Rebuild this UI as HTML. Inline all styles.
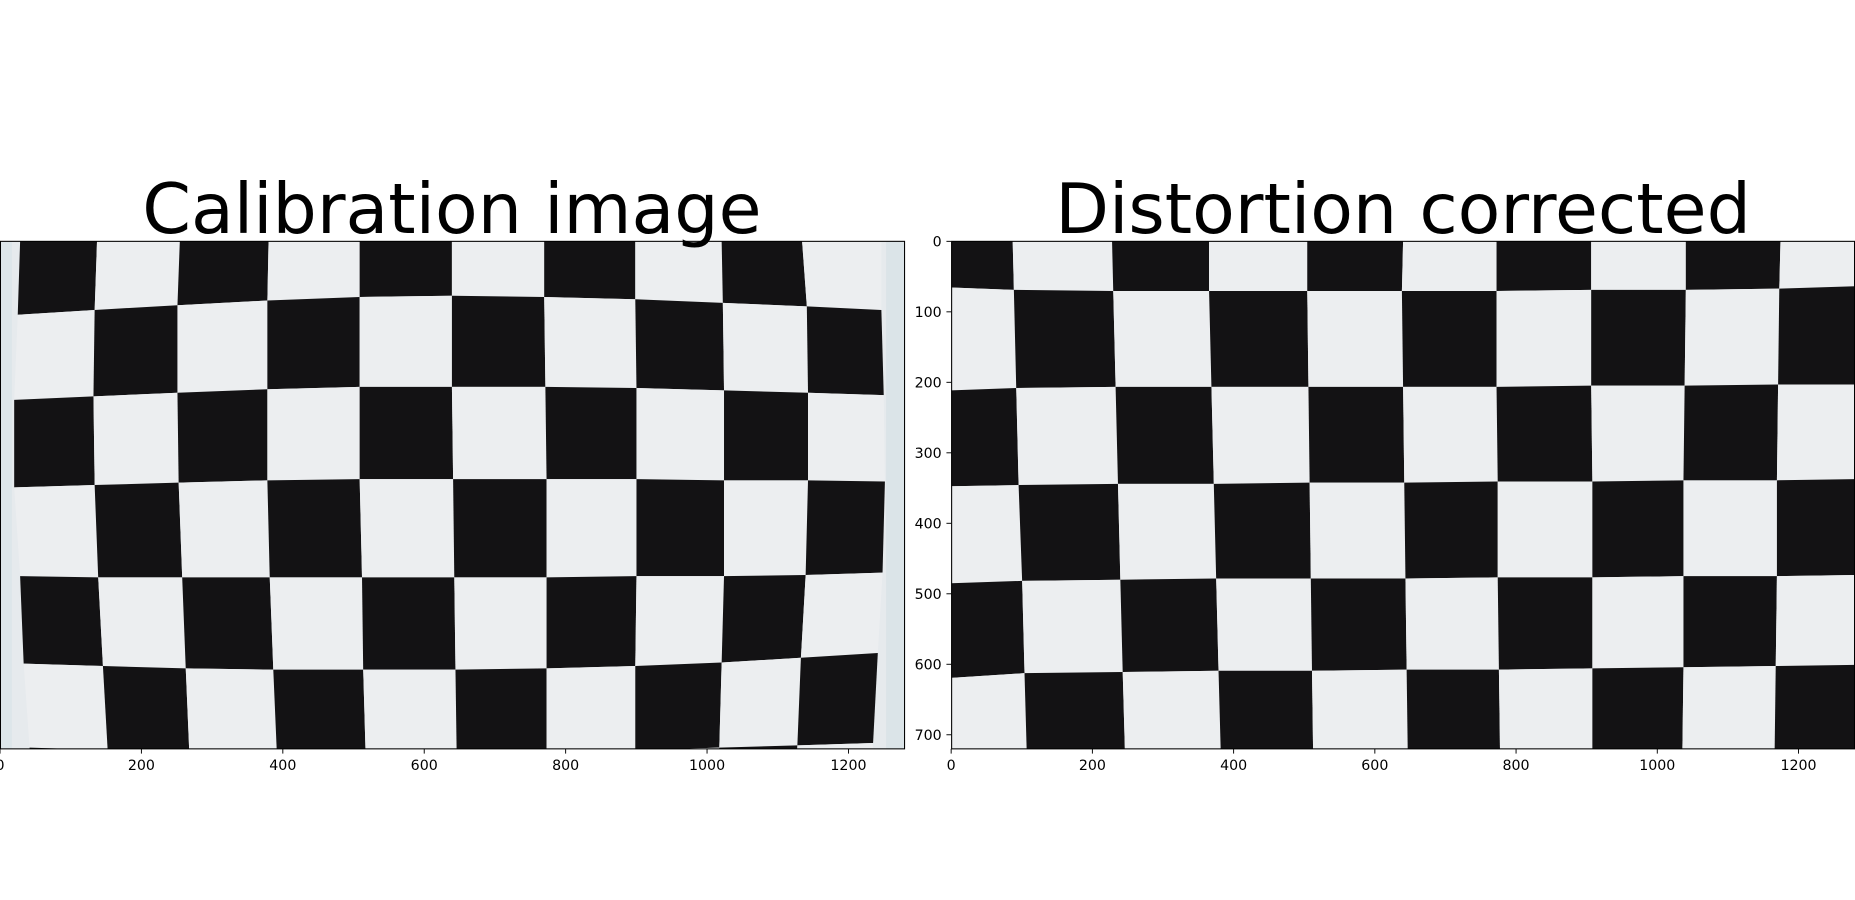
<!DOCTYPE html>
<html><head><meta charset="utf-8"><style>
html,body{margin:0;padding:0;background:#fff;width:1855px;height:900px;overflow:hidden}
svg{display:block}
text{font-family:"DejaVu Sans","Liberation Sans",sans-serif;fill:#000}
</style></head><body>
<svg id="fig" width="1855" height="900" viewBox="0 0 1568 760.75" xmlns="http://www.w3.org/2000/svg">
<defs>
<clipPath id="clipL"><rect x="0" y="204" width="765" height="429"/></clipPath>
<clipPath id="clipR"><rect x="804" y="204" width="764" height="429"/></clipPath>
</defs>
<g id="axL"></g>
<g id="axR"></g>
<text x="382" y="197" font-size="59" text-anchor="middle">Calibration image</text>
<text x="1186" y="197" font-size="59" text-anchor="middle">Distortion corrected</text>
</svg>
<script>
const xTicks=[0,200,400,600,800,1000,1200];
const yTicks=[0,100,200,300,400,500,600,700];
const leftX=[[17,82,152,227,304,382,460,537,610,678,745],[15,80,150,226,304,382,460,537,611,682,745],[12,79,150,226,304,382,461,538,612,683,747],[12,80,151,226,304,383,462,538,612,683,748],[17,83,154,228,306,384,462,538,612,681,746],[20,87,157,231,307,385,462,537,610,677,742],[25,91,160,234,309,386,462,537,608,674,738],[27,93,162,236,310,387,462,537,607,672,736]];
const leftY=[[204,204,204,204,204,204,204,204,204,204,204],[266,262,258,254,251,250,251,253,256,259,262],[338,335,332,329,327,327,327,328,330,332,334],[412,410,408,406,405,405,405,405,406,406,407],[487,488,488,488,488,488,488,487,487,486,484],[561,563,565,566,566,566,565,563,560,556,552],[632,634,636,636,636,636,635,634,632,630,628],[700,700,700,700,700,700,700,700,700,700,700]];
const rightX=[[804,856,940,1022,1105,1186,1265,1345,1425,1505,1568],[804,857,941,1022,1105,1185,1265,1345,1425,1504,1568],[804,859,943,1024,1106,1186,1265,1345,1424,1503,1568],[804,861,945,1026,1107,1187,1266,1346,1423,1502,1568],[804,864,947,1028,1108,1188,1266,1346,1423,1502,1568],[804,866,949,1030,1109,1189,1267,1346,1423,1501,1568],[804,868,951,1032,1110,1190,1268,1346,1422,1500,1568]];
const rightY=[[204,204,204,204,204,204,204,204,204,204,204],[243,245,246,246,246,246,246,245,245,244,242],[330,328,327,327,327,327,327,326,326,325,325],[411,410,409,409,408,408,407,407,406,406,405],[493,491,490,489,489,489,488,488,487,487,486],[573,569,568,567,567,566,566,565,564,563,562],[640,640,640,640,640,640,640,640,640,640,640]];
const NS='http://www.w3.org/2000/svg';
function mk(tag,attrs,parent){const e=document.createElementNS(NS,tag);for(const k in attrs)e.setAttribute(k,attrs[k]);parent.appendChild(e);return e;}
function axis(g,x0,x1,y0,y1,clip,GX,GY,bg,showY,nm){
  const sx=v=>x0+v*(x1-x0)/1280, sy=v=>y0+v*(y1-y0)/720;
  const img=mk('g',{'clip-path':'url(#'+clip+')'},g);
  
  
  const b=mk('rect',{x:x0,y:y0,width:x1-x0,height:y1-y0,fill:bg},img);
  
  
  if(nm==='left'){
    const s1=mk('rect',{x:0,y:y0,width:10,height:y1-y0,fill:'#dde6ea'},img);
    
    
    const s2=mk('rect',{x:749,y:y0,width:16,height:y1-y0,fill:'#dbe4e8'},img);
    
    
  }
  for(let j=0;j<GX.length-1;j++){for(let i=0;i<10;i++){
    const black=(i+j)%2===0;
    const pts=[[GX[j][i],GY[j][i]],[GX[j][i+1],GY[j][i+1]],[GX[j+1][i+1],GY[j+1][i+1]],[GX[j+1][i],GY[j+1][i]]].map(p=>p.join(',')).join(' ');
    const p=mk('polygon',{points:pts,fill:black?'#131214':'#eceef0'},img);
    
    
  }}
  const fr=mk('rect',{x:x0+0.4,y:y0,width:x1-x0-0.8,height:y1-y0,fill:'none',stroke:'#000','stroke-width':0.9},g);
  
  
  xTicks.forEach(t=>{
    const x=sx(t);
    const l=mk('line',{x1:x,x2:x,y1:y1,y2:y1+4,stroke:'#000','stroke-width':0.8},g);
    
    
    const tx=mk('text',{x:x,y:y1+18,'font-size':12,'text-anchor':'middle'},g);
    tx.textContent=t;
    
    
  });
  if(showY) yTicks.forEach(t=>{
    const y=sy(t);
    const l=mk('line',{x1:x0-4,x2:x0,y1:y,y2:y,stroke:'#000','stroke-width':0.8},g);
    
    
    const tx=mk('text',{x:x0-8,y:y+4.5,'font-size':12,'text-anchor':'end'},g);
    tx.textContent=t;
    
    
  });
}
axis(document.getElementById('axL'),0,765,204,633,'clipL',leftX,leftY,'#e6eaed',false,'left');
axis(document.getElementById('axR'),804,1568,204,633,'clipR',rightX,rightY,'#eceef0',true,'right');
</script>
</body></html>
